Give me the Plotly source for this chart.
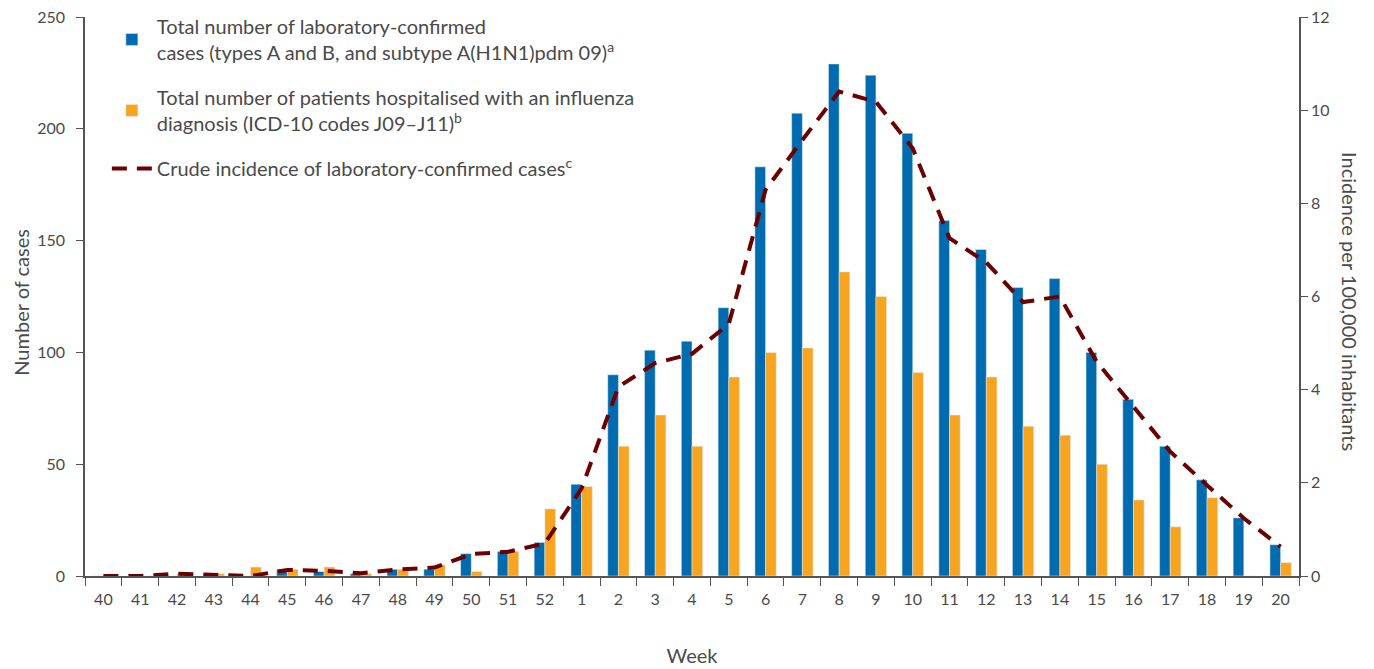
import plotly.graph_objects as go

weeks = ["40", "41", "42", "43", "44", "45", "46", "47", "48", "49", "50", "51", "52",
         "1", "2", "3", "4", "5", "6", "7", "8", "9", "10", "11", "12", "13", "14",
         "15", "16", "17", "18", "19", "20"]

lab_confirmed = [0, 0, 0, 0, 0, 3, 2, 1, 3, 3, 10, 11, 15,
                 41, 90, 101, 105, 120, 183, 207, 229, 224, 198, 159, 146, 129, 133,
                 100, 79, 58, 43, 26, 14]

hospitalised = [0, 0, 1, 1, 4, 3, 4, 1, 3, 5, 2, 11, 30,
                40, 58, 72, 58, 89, 100, 102, 136, 125, 91, 72, 89, 67, 63,
                50, 34, 22, 35, 0, 6]

incidence = [0.0, 0.0, 0.05, 0.02, 0.0, 0.13, 0.11, 0.06, 0.14, 0.18, 0.47, 0.52, 0.70,
             1.88, 4.06, 4.57, 4.77, 5.41, 8.29, 9.36, 10.40, 10.18, 9.18, 7.25, 6.73, 5.88, 6.0,
             4.6, 3.63, 2.67, 1.95, 1.24, 0.63]

left_ticks = [0, 50, 100, 150, 200, 250]
right_ticks = [0, 2, 4, 6, 8, 10, 12]

BLUE = "#006BAE"
ORANGE = "#F7A521"
DARKRED = "#6B0000"
GREY = "#4a4a4a"
AXIS = "#555555"
FONT = "Lato"

fig = go.Figure()
fig.add_trace(go.Bar(
    x=weeks, y=lab_confirmed, marker_color=BLUE,
    name="Total number of laboratory-confirmed<br>cases (types A and B, and subtype A(H1N1)pdm 09)<sup>a</sup>",
    legendgroup="a",
))
fig.add_trace(go.Bar(
    x=weeks, y=hospitalised, marker_color=ORANGE,
    name="Total number of patients hospitalised with an influenza<br>diagnosis (ICD-10 codes J09–J11)<sup>b</sup>",
    legendgroup="b",
))
fig.add_trace(go.Scatter(
    x=weeks, y=incidence, yaxis="y2", mode="lines",
    line=dict(color=DARKRED, width=4, dash="15px,10px"),
    name="Crude incidence of laboratory-confirmed cases<sup>c</sup>",
    legendgroup="c",
))

fig.update_layout(
    width=1374, height=669,
    margin=dict(l=77, r=83, t=9, b=101, autoexpand=False),
    paper_bgcolor="white", plot_bgcolor="white",
    font=dict(family=FONT, color=GREY, size=16),
    barmode="group", bargap=0.42, bargroupgap=0,
    showlegend=True,
    legend=dict(
        x=0.018, y=1.018, xanchor="left", yanchor="top",
        font=dict(size=20, color=GREY, family=FONT),
        bgcolor="rgba(255,255,255,0)",
        tracegroupgap=16, itemwidth=40,
    ),
    xaxis=dict(
        type="category", categoryorder="array", categoryarray=weeks,
        showline=True, linecolor=AXIS, linewidth=1.5,
        ticks="outside", tickson="boundaries", ticklen=8, tickcolor=AXIS,
        tickfont=dict(size=16, color=GREY), ticklabelstandoff=8,
        showgrid=False, zeroline=False, automargin=False,
        title=dict(text="Week", font=dict(size=20, color=GREY), standoff=42),
    ),
    yaxis=dict(
        range=[0, 250], tickvals=left_ticks,
        showline=True, linecolor=AXIS, linewidth=1.5,
        ticks="outside", ticklen=7, tickcolor=AXIS,
        tickfont=dict(size=16, color=GREY), ticklabelstandoff=8,
        ticklabeloverflow="allow",
        showgrid=False, zeroline=False, automargin=False,
    ),
    yaxis2=dict(
        range=[0, 12], tickvals=right_ticks, overlaying="y", side="right",
        showline=True, linecolor=AXIS, linewidth=1.5,
        ticks="outside", ticklen=7, tickcolor=AXIS,
        tickfont=dict(size=16, color=GREY), ticklabeloverflow="allow",
        showgrid=False, zeroline=False, automargin=False,
    ),
    annotations=[
        dict(text="Number of cases", xref="paper", yref="paper",
             x=-0.053, y=0.49, xanchor="center", yanchor="middle",
             textangle=-90, showarrow=False, font=dict(size=20, color=GREY)),
        dict(text="Incidence per 100,000 inhabitants", xref="paper", yref="paper",
             x=1.042, y=0.49, xanchor="center", yanchor="middle",
             textangle=90, showarrow=False, font=dict(size=20, color=GREY)),
    ],
)

fig.write_html("out.html")
